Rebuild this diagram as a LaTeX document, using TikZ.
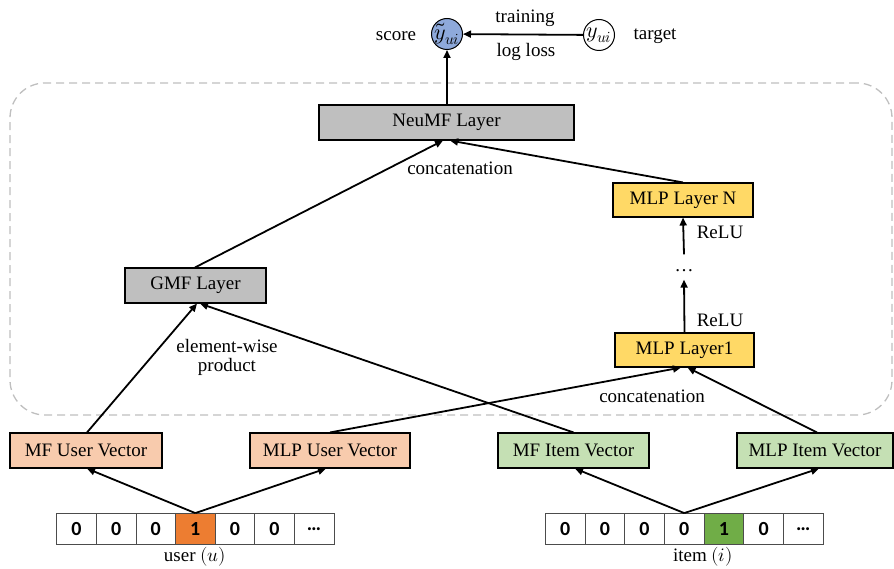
\documentclass[tikz,border=0pt]{standalone}
\usepackage{fontspec}
\usepackage{unicode-math}
\setmainfont{Liberation Serif}
\setmathfont{Latin Modern Math}
\newfontfamily\cellfont{Carlito}
\usetikzlibrary{arrows.meta}
\definecolor{scoreblue}{HTML}{8EA9DB}
\definecolor{layergray}{HTML}{BFBFBF}
\definecolor{mlpyellow}{HTML}{FFD966}
\definecolor{userpeach}{HTML}{F8CBAD}
\definecolor{itemgreen}{HTML}{C5E0B4}
\definecolor{uorange}{HTML}{ED7D31}
\definecolor{igreen}{HTML}{70AD47}
\definecolor{framegray}{HTML}{BFBFBF}
\begin{document}
\begin{tikzpicture}[x=1pt,y=-1pt,
  font=\fontsize{19}{21}\selectfont,
  box/.style={draw=black, line width=1.1pt, minimum height=35pt, inner sep=0pt},
  cellbox/.style={draw=black!70, line width=0.8pt, minimum width=39.6pt, minimum height=31pt, inner sep=0pt, font=\cellfont\bfseries\fontsize{20}{22}\selectfont},
  arr/.style={line width=1.8pt, -{Triangle[length=8pt,width=7pt]}},
  lbl/.style={inner sep=0pt, align=center},
  ynode/.style={circle, draw=black, line width=1pt, minimum size=31pt, inner sep=0pt},
  ytext/.style={inner sep=0pt, font=\fontsize{22}{24}\selectfont}]
\useasboundingbox (0,0) rectangle (894,569);

% dashed frame
\node[draw=framegray, line width=1.3pt, dash pattern=on 8pt off 5pt, rounded corners=35pt,
      minimum width=882pt, minimum height=332pt] (frame) at (451,249) {};

% top
\node[ynode, fill=scoreblue] (score) at (447,34) {};
\node[ytext] (scoretext) at (score.center) {$\tilde{y}_{ui}$};
\node[ynode, fill=white] (target) at (599,35) {};
\node[ytext] (targettext) at (target.center) {$y_{ui}$};
\node[lbl] (scorelbl) at (396,36) {score};
\node[lbl] (targetlbl) at (655,36) {target};
\node[lbl] (trainlbl) at (525,18) {training};
\node[lbl] (losslbl) at (526,52) {log loss};
\draw[arr] (target) -- (score);

% layers
\node[box, fill=layergray, minimum width=255pt] (neumf) at (446.5,122.5) {NeuMF Layer};
\node[box, fill=layergray, minimum width=141pt] (gmf) at (195.5,285.5) {GMF Layer};
\node[box, fill=mlpyellow, minimum width=140pt, minimum height=34pt] (mlpn) at (683,200) {MLP Layer N};
\node[box, fill=mlpyellow, minimum width=139pt, minimum height=34pt] (mlp1) at (684.5,350) {MLP Layer1};
\node[lbl] (dots) at (684,271) {\dots};
\node[lbl] (relu1) at (720,320) {ReLU};
\node[lbl] (relu2) at (720,232) {ReLU};
\node[lbl] (concat1) at (460,168) {concatenation};
\node[lbl] (concat2) at (652,396) {concatenation};
\node[lbl] (ewp) at (227,357) {element-wise\\[-2pt]product};

\draw[arr] (neumf.north -| score) -- (score);
\draw[arr] (mlp1.north) -- ([yshift=-10pt]dots.north);
\draw[arr] ([yshift=18pt]dots.south) -- (mlpn.south);
\draw[arr] ([xshift=-0.5pt]gmf.north) -- ([xshift=-3.5pt]neumf.south);
\draw[arr] (mlpn.north) -- ([xshift=3.5pt]neumf.south);

% vectors
\node[box, fill=userpeach, minimum width=152pt] (mfu) at (86,450.5) {MF User Vector};
\node[box, fill=userpeach, minimum width=160pt] (mlpu) at (330,450.5) {MLP User Vector};
\node[box, fill=itemgreen, minimum width=151pt] (mfi) at (573.5,450.5) {MF Item Vector};
\node[box, fill=itemgreen, minimum width=156pt] (mlpi) at (815,450.5) {MLP Item Vector};

\draw[arr] ([xshift=1pt]mfu.north) -- ([xshift=1.5pt]gmf.south);
\draw[arr] (mfi.north) -- ([xshift=4.5pt]gmf.south);
\draw[arr] (mlpu.north) -- ([xshift=-3.5pt]mlp1.south);
\draw[arr] ([xshift=2pt]mlpi.north) -- ([xshift=3pt]mlp1.south);

% one-hot vectors
\foreach \v/\c [count=\i] in {0/white,0/white,0/white,1/uorange,0/white,0/white,…/white}
  \node[cellbox, fill=\c] (u\i) at ({56.7+39.6*(\i-0.5)},529) {\v};
\foreach \v/\c [count=\i] in {0/white,0/white,0/white,0/white,1/igreen,0/white,…/white}
  \node[cellbox, fill=\c] (i\i) at ({545.3+39.7*(\i-0.5)},529) {\v};
\node[lbl] (userlbl) at (195,557) {user $(u)$};
\node[lbl] (itemlbl) at (703,557) {item $(i)$};

\draw[arr] (u4.north) -- ([xshift=1pt]mfu.south);
\draw[arr] (u4.north) -- ([xshift=-4pt]mlpu.south);
\draw[arr] (i4.north) -- ([xshift=1.5pt]mfi.south);
\draw[arr] (i4.north) -- ([xshift=4pt]mlpi.south);
\end{tikzpicture}
\end{document}
